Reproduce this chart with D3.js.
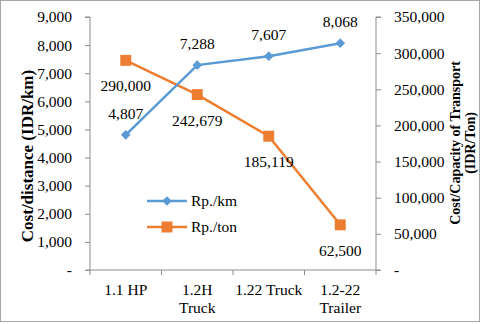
<!DOCTYPE html>
<html>
<head>
<meta charset="utf-8">
<script src="https://cdn.jsdelivr.net/npm/d3@7"></script>
<style>
  body { margin: 0; background: #fff; }
  svg { display: block; font-family: "Liberation Serif", "Times New Roman", serif; }
</style>
</head>
<body>
<div id="chart"></div>
<script>
// chart data
const categories = ["1.1 HP", "1.2H\nTruck", "1.22 Truck", "1.2-22\nTrailer"];
const perKm = [4807, 7288, 7607, 8068];
const perTon = [290000, 242679, 185119, 62500];
const leftTicks = [0, 1000, 2000, 3000, 4000, 5000, 6000, 7000, 8000, 9000];
const rightTicks = [0, 50000, 100000, 150000, 200000, 250000, 300000, 350000];

const width = 480, height = 324;
const m = {top: 17, right: 104, bottom: 54, left: 90};
const blue = "#5B9BD5", orange = "#ED7D31", axisCol = "#8c8c8c";
const fs = 15.5;

const svg = d3.select("#chart").append("svg")
  .attr("width", width)
  .attr("height", height);

// outer frame
svg.append("rect")
  .attr("x", 0.5).attr("y", 0.5)
  .attr("width", width - 1).attr("height", 321)
  .attr("fill", "none").attr("stroke", "#a6a6a6");

const x = d3.scaleBand().domain(categories).range([m.left, width - m.right]);
const yL = d3.scaleLinear().domain([0, 9000]).range([height - m.bottom, m.top]);
const yR = d3.scaleLinear().domain([0, 350000]).range([height - m.bottom, m.top]);
const fmt = d => d === 0 ? "-" : d3.format(",")(d);
const cx = d => x(d) + x.bandwidth() / 2;

// left axis
const gL = svg.append("g")
  .attr("transform", `translate(${m.left},0)`)
  .call(d3.axisLeft(yL).tickValues(leftTicks).tickFormat(fmt).tickSize(5).tickPadding(13));
// right axis
const gR = svg.append("g")
  .attr("transform", `translate(${width - m.right},0)`)
  .call(d3.axisRight(yR).tickValues(rightTicks).tickFormat(fmt).tickSize(5).tickPadding(13));
[gL, gR].forEach(g => {
  g.selectAll("path, line").attr("stroke", axisCol);
  g.selectAll("text").attr("font-size", fs).attr("fill", "#000")
    .attr("font-family", "Liberation Serif");
});
gL.select("path").attr("d", `M-5,${yL(9000)}H0V${yL(0)}`);
gR.select("path").attr("d", `M5,${yR(350000)}H0V${yR(0)}`);

// x axis
const gX = svg.append("g").attr("transform", `translate(0,${height - m.bottom})`);
gX.append("line")
  .attr("x1", m.left - 4).attr("x2", width - m.right + 4)
  .attr("stroke", axisCol);
gX.selectAll(".tk")
  .data(categories.map(c => x(c)).concat([width - m.right]))
  .join("line")
  .attr("x1", d => d).attr("x2", d => d)
  .attr("y1", 0).attr("y2", 5)
  .attr("stroke", axisCol);
gX.selectAll(".lbl")
  .data(categories)
  .join("text")
  .attr("x", d => cx(d))
  .attr("y", 25)
  .attr("text-anchor", "middle")
  .attr("font-size", fs)
  .selectAll("tspan")
  .data(d => d.split("\n").map(t => ({t, c: d})))
  .join("tspan")
  .attr("x", d => cx(d.c))
  .attr("dy", (d, i) => i ? 18 : 0)
  .text(d => d.t);

// axis titles
svg.append("text")
  .attr("transform", `translate(33,156) rotate(-90)`)
  .attr("text-anchor", "middle")
  .attr("font-size", 17).attr("font-weight", "bold")
  .text("Cost/distance (IDR/km)");
const tR = svg.append("text")
  .attr("transform", `translate(460,143) rotate(-90)`)
  .attr("text-anchor", "middle")
  .attr("font-size", 14).attr("font-weight", "bold");
tR.append("tspan").attr("x", 0).attr("dy", 0).text("Cost/Capacity of Transport");
tR.append("tspan").attr("x", 0).attr("dy", 15).text("(IDR/Ton)");

// series
const lineL = d3.line().x((d, i) => cx(categories[i])).y(d => yL(d));
const lineR = d3.line().x((d, i) => cx(categories[i])).y(d => yR(d));

svg.append("path").attr("d", lineR(perTon))
  .attr("fill", "none").attr("stroke", orange).attr("stroke-width", 2.5);
svg.append("path").attr("d", lineL(perKm))
  .attr("fill", "none").attr("stroke", blue).attr("stroke-width", 2.5);

const diamond = d3.symbol().type(d3.symbolDiamond2).size(60);
const square = d3.symbol().type(d3.symbolSquare).size(120);

svg.selectAll(".sq").data(perTon).join("path")
  .attr("transform", (d, i) => `translate(${cx(categories[i])},${yR(d)})`)
  .attr("d", square).attr("fill", orange);
svg.selectAll(".dm").data(perKm).join("path")
  .attr("transform", (d, i) => `translate(${cx(categories[i])},${yL(d)})`)
  .attr("d", diamond).attr("fill", blue);

// data labels
svg.selectAll(".lk").data(perKm).join("text")
  .attr("x", (d, i) => cx(categories[i]))
  .attr("y", d => yL(d) - 16)
  .attr("text-anchor", "middle").attr("font-size", fs)
  .text(d => d3.format(",")(d));
svg.selectAll(".lt").data(perTon).join("text")
  .attr("x", (d, i) => cx(categories[i]))
  .attr("y", d => yR(d) + 31)
  .attr("text-anchor", "middle").attr("font-size", fs)
  .text(d => d3.format(",")(d));

// legend
const legend = svg.append("g").attr("transform", "translate(147,201)");
[{name: "Rp./km", c: blue, s: diamond}, {name: "Rp./ton", c: orange, s: square}]
  .forEach((d, i) => {
    const g = legend.append("g").attr("transform", `translate(0,${i * 26})`);
    g.append("line").attr("x1", 0).attr("x2", 40)
      .attr("stroke", d.c).attr("stroke-width", 2.5);
    g.append("path").attr("transform", "translate(20,0)").attr("d", d.s).attr("fill", d.c);
    g.append("text").attr("x", 44).attr("y", 5).attr("font-size", fs).text(d.name);
  });
</script>
</body>
</html>
